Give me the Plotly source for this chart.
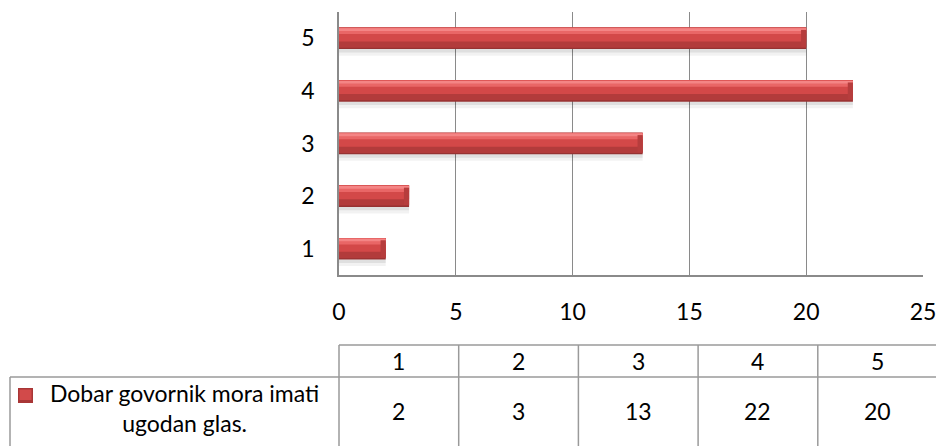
import plotly.graph_objects as go

categories = [1, 2, 3, 4, 5]
values = [2, 3, 13, 22, 20]
series_name = "Dobar govornik mora imati<br>ugodan glas."
x_ticks = [0, 5, 10, 15, 20, 25]

W, H = 936, 446
ML, MR, MT = 339, 936 - 923, 12
PW = W - ML - MR
PH = 263
MB = H - MT - PH
FONT = "Lato, Carlito, Calibri, sans-serif"
FS = 23
GRID = "#8a8a8a"
TBL = "#9a9a9a"


def px_x(px):
    return (px - ML) / PW


def px_y(py):
    return (MT + PH - py) / PH


fig = go.Figure()

# bar layers to mimic bevel look: (offset, width, color)
layers = [
    (-0.33, 0.13, "rgba(0,0,0,0.05)"),
    (-0.27, 0.07, "rgba(0,0,0,0.08)"),
    (-0.205, 0.41, "#963232"),
    (-0.18, 0.385, "#b23b3b"),
    (-0.06, 0.265, "#d34848"),
    (0.08, 0.12, "#e96666"),
    (0.14, 0.05, "#f48585"),
]
for off, wd, col in layers:
    fig.add_trace(go.Bar(
        x=values, y=categories, orientation="h",
        offset=off, width=wd,
        marker=dict(color=col, line=dict(width=0)),
        hoverinfo="skip", showlegend=False,
    ))

# darker bevelled right end of each bar
cap = 0.22
fig.add_trace(go.Bar(
    x=[cap] * len(values), base=[v - cap for v in values], y=categories, orientation="h",
    offset=-0.17, width=0.33,
    marker=dict(color="#b63d3d", line=dict(width=0)),
    hoverinfo="skip", showlegend=False,
))

fig.update_layout(
    width=W, height=H,
    margin=dict(l=ML, r=MR, t=MT, b=MB, autoexpand=False),
    plot_bgcolor="white", paper_bgcolor="white",
    barmode="overlay",
    font=dict(family=FONT, size=FS, color="#000"),
    xaxis=dict(
        range=[0, 25], tickvals=x_ticks, showgrid=True, gridcolor=GRID, gridwidth=1,
        showline=True, linecolor=GRID, linewidth=1.5, zeroline=False,
        ticks="", ticklabelstandoff=16, tickfont=dict(size=FS),
        ticklabeloverflow="allow", automargin=False,
    ),
    yaxis=dict(
        range=[0.5, 5.5], tickvals=categories, showgrid=False,
        showline=True, linecolor=GRID, linewidth=1.5, zeroline=False,
        ticks="", ticklabelstandoff=18, tickfont=dict(size=FS), automargin=False,
    ),
)

# data table below the chart (pixel positions of the reference)
col_w = 119.7
x0 = 339
row_top, row_mid = 345, 377
left_cell = 10
shapes = []
line = dict(color=TBL, width=1.5)
shapes.append(dict(type="line", xref="paper", yref="paper",
                   x0=px_x(x0), x1=px_x(940), y0=px_y(row_top), y1=px_y(row_top), line=line))
shapes.append(dict(type="line", xref="paper", yref="paper",
                   x0=px_x(left_cell), x1=px_x(940), y0=px_y(row_mid), y1=px_y(row_mid), line=line))
shapes.append(dict(type="line", xref="paper", yref="paper",
                   x0=px_x(left_cell), x1=px_x(left_cell), y0=px_y(row_mid), y1=px_y(450), line=line))
for i in range(len(categories)):
    xp = x0 + i * col_w
    shapes.append(dict(type="line", xref="paper", yref="paper",
                       x0=px_x(xp), x1=px_x(xp), y0=px_y(row_top), y1=px_y(450), line=line))

# legend marker
shapes.append(dict(type="rect", xref="paper", yref="paper",
                   x0=px_x(18), x1=px_x(33), y0=px_y(403), y1=px_y(388),
                   fillcolor="#a83636", line=dict(width=0)))
shapes.append(dict(type="rect", xref="paper", yref="paper",
                   x0=px_x(19.5), x1=px_x(31.5), y0=px_y(400), y1=px_y(389.5),
                   fillcolor="#d24a4a", line=dict(width=0)))

annotations = []
for i, (c, v) in enumerate(zip(categories, values)):
    cx = x0 + (i + 0.5) * col_w
    annotations.append(dict(xref="paper", yref="paper", x=px_x(cx), y=px_y(361),
                            text=str(c), showarrow=False, xanchor="center", yanchor="middle",
                            font=dict(size=FS)))
    annotations.append(dict(xref="paper", yref="paper", x=px_x(cx), y=px_y(411),
                            text=str(v), showarrow=False, xanchor="center", yanchor="middle",
                            font=dict(size=FS)))
annotations.append(dict(xref="paper", yref="paper", x=px_x(184), y=px_y(408),
                        text=series_name, showarrow=False, xanchor="center", yanchor="middle",
                        align="center", font=dict(size=FS)))

fig.update_layout(shapes=shapes, annotations=annotations)

fig.write_html(
    "out.html",
    config={"displayModeBar": False},
    post_script="document.body.style.margin='0';document.body.style.overflow='hidden';",
)
